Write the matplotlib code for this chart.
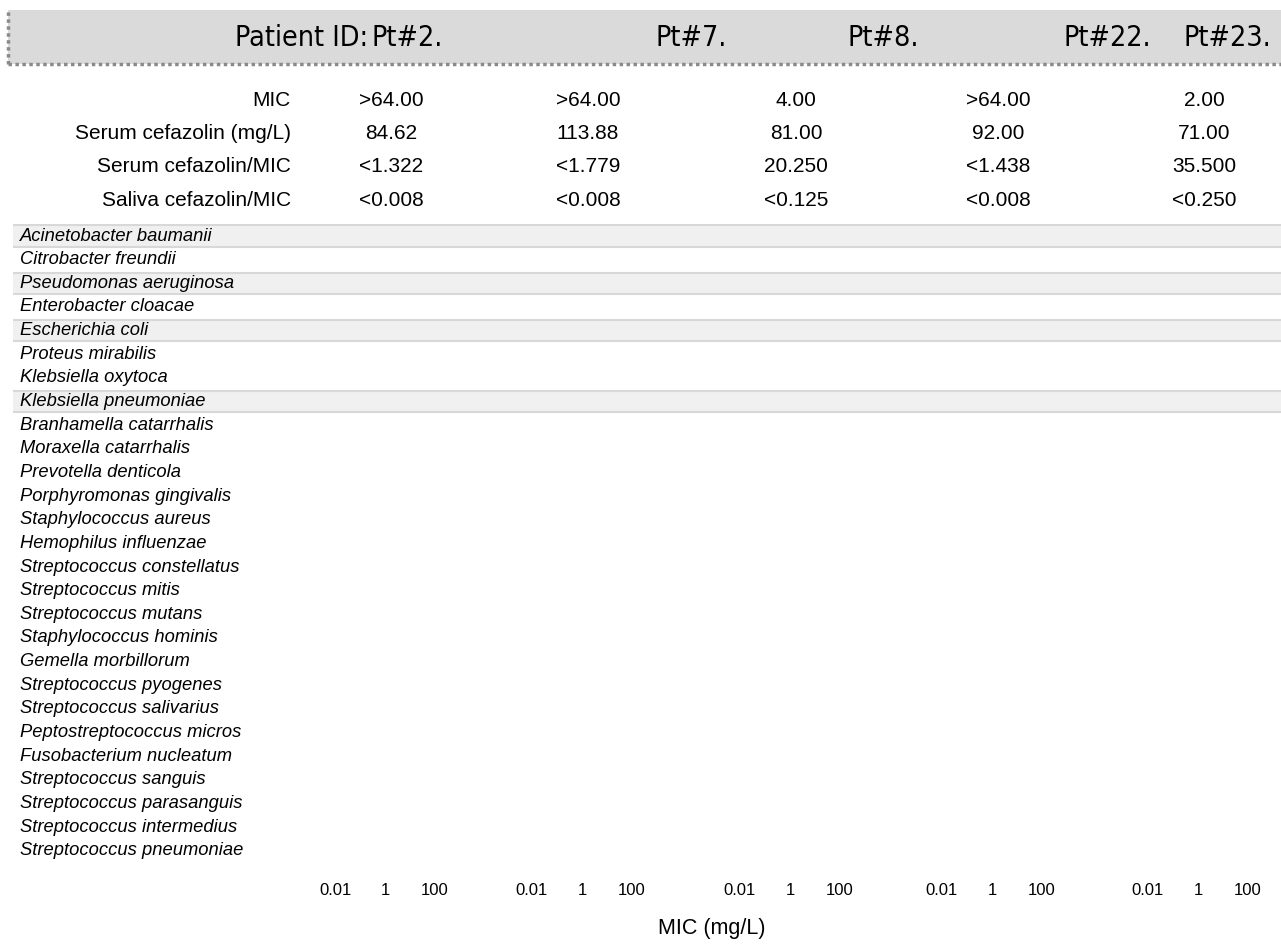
"""Cefazolin MIC panels per patient (empty MIC strips, species rows)."""
import matplotlib
matplotlib.use("Agg")
import matplotlib.pyplot as plt
from matplotlib.patches import Rectangle
from matplotlib.lines import Line2D

plt.rcParams["font.family"] = ["Liberation Sans", "DejaVu Sans"]

patients = ["Pt#2.", "Pt#7.", "Pt#8.", "Pt#22.", "Pt#23."]
row_labels = ["MIC", "Serum cefazolin (mg/L)", "Serum cefazolin/MIC", "Saliva cefazolin/MIC"]
mic = [">64.00", ">64.00", "4.00", ">64.00", "2.00"]
serum = ["84.62", "113.88", "81.00", "92.00", "71.00"]
serum_mic = ["<1.322", "<1.779", "20.250", "<1.438", "35.500"]
saliva_mic = ["<0.008", "<0.008", "<0.125", "<0.008", "<0.250"]
table = [mic, serum, serum_mic, saliva_mic]

species = [
    "Acinetobacter baumanii", "Citrobacter freundii", "Pseudomonas aeruginosa",
    "Enterobacter cloacae", "Escherichia coli", "Proteus mirabilis",
    "Klebsiella oxytoca", "Klebsiella pneumoniae", "Branhamella catarrhalis",
    "Moraxella catarrhalis", "Prevotella denticola", "Porphyromonas gingivalis",
    "Staphylococcus aureus", "Hemophilus influenzae", "Streptococcus constellatus",
    "Streptococcus mitis", "Streptococcus mutans", "Staphylococcus hominis",
    "Gemella morbillorum", "Streptococcus pyogenes", "Streptococcus salivarius",
    "Peptostreptococcus micros", "Fusobacterium nucleatum", "Streptococcus sanguis",
    "Streptococcus parasanguis", "Streptococcus intermedius", "Streptococcus pneumoniae",
]
shaded = ["Acinetobacter baumanii", "Pseudomonas aeruginosa", "Escherichia coli",
          "Klebsiella pneumoniae"]
mic_ticks = [0.01, 1, 100]
mic_tick_labels = ["0.01", "1", "100"]

W, H = 1281, 947
fig = plt.figure(figsize=(W / 100, H / 100), dpi=100)


def fx(px):
    return px / W


def fy(py):
    return 1 - py / H


# header bar
fig.add_artist(Rectangle((fx(8), fy(64)), fx(W - 8), 54 / H, transform=fig.transFigure,
                         fc="#dadada", ec="none", zorder=0))
fig.add_artist(Line2D([fx(8), 1], [fy(64), fy(64)], transform=fig.transFigure,
                      color="#8a8a8a", lw=2.5, ls=(0, (1, 1))))
fig.add_artist(Line2D([fx(8), fx(8)], [fy(64), fy(10)], transform=fig.transFigure,
                      color="#8a8a8a", lw=2.5, ls=(0, (1, 1))))
hdr_font = dict(family=["DejaVu Sans"], stretch="condensed", fontsize=20.5, va="center")
fig.text(fx(368), fy(38), "Patient ID:", ha="right", **hdr_font)
for x, p in zip([372, 655, 848, 1063, 1183], patients):
    fig.text(fx(x), fy(38), p, ha="left", **hdr_font)

# summary table
centers = [385, 582, 790, 992, 1198]
for r, (lab, vals) in enumerate(zip(row_labels, table)):
    y = fy(100 + r * 33.5)
    fig.text(fx(291), y, lab, ha="right", va="center", fontsize=15)
    for c, v in zip(centers, vals):
        fig.text(fx(c + 6), y, v, ha="center", va="center", fontsize=15)

# species rows
n = len(species)
top, bot = 224.2, 862.6
ax_sp = fig.add_axes([fx(13), fy(bot), 1 - fx(13), (bot - top) / H])
ax_sp.set_xlim(0, 1)
ax_sp.set_ylim(n - 0.5, -0.5)
ax_sp.axis("off")
for i, s in enumerate(species):
    if s in shaded:
        ax_sp.axhspan(i - 0.45, i + 0.45, fc="#f0f0f0", ec="none")
        ax_sp.axhline(i - 0.45, color="#d8d8d8", lw=1.5)
        ax_sp.axhline(i + 0.45, color="#d8d8d8", lw=1.5)
    ax_sp.text(0.0055, i, s, ha="left", va="center", fontsize=13.2, style="italic")

# MIC strips per patient
for c in centers:
    ax = fig.add_axes([fx(c - 75), fy(bot), fx(150), (bot - top) / H])
    ax.patch.set_alpha(0)
    ax.set_xscale("log")
    ax.set_xlim(1e-3, 1e3)
    ax.set_ylim(n - 0.5, -0.5)
    ax.set_xticks(mic_ticks)
    ax.set_xticklabels(mic_tick_labels, fontsize=12)
    ax.minorticks_off()
    ax.set_yticks([])
    ax.tick_params(axis="x", length=0, pad=15)
    for sp in ax.spines.values():
        sp.set_visible(False)

fig.text(fx(712), fy(928), "MIC (mg/L)", ha="center", va="center", fontsize=15.5)

fig.savefig("out.png", dpi=100)
